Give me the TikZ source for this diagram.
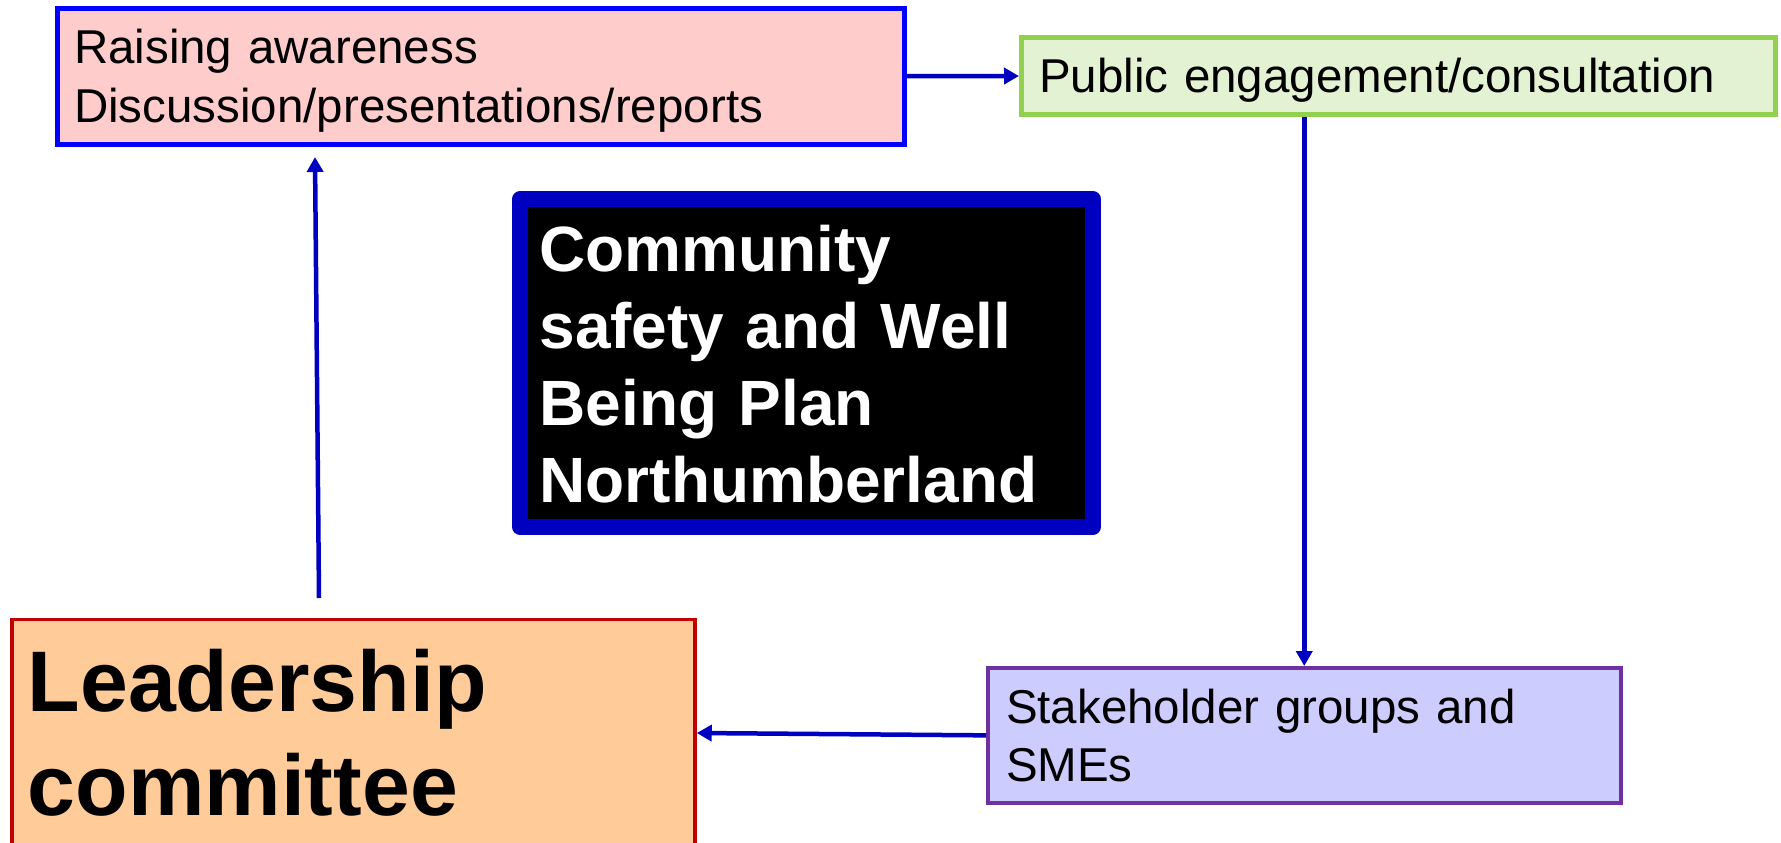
\documentclass[tikz,border=0pt]{standalone}
\usepackage{fontspec}
\setmainfont{Liberation Sans}
\usetikzlibrary{arrows.meta}
\definecolor{pinkfill}{RGB}{255,204,204}
\definecolor{pinkline}{RGB}{0,0,255}
\definecolor{greenfill}{RGB}{226,242,210}
\definecolor{greenline}{RGB}{146,208,80}
\definecolor{navy}{RGB}{0,0,192}
\definecolor{orangefill}{RGB}{255,204,153}
\definecolor{redline}{RGB}{192,0,0}
\definecolor{lilacfill}{RGB}{204,204,255}
\definecolor{purpleline}{RGB}{112,48,160}
\begin{document}
\begin{tikzpicture}[x=1pt,y=-1pt,
  box/.style={rectangle, align=left, inner ysep=0pt, anchor=center},
  smalltext/.style={font=\fontsize{47.5}{58.5}\selectfont},
  arr/.style={draw=navy, line width=4.5pt, -{Triangle[length=15pt,width=16pt]}}]
\useasboundingbox (0,0) rectangle (1781,843);

\node[box, smalltext, draw=pinkline, fill=pinkfill, line width=5pt,
  inner xsep=16.5pt, text width=813.5pt, minimum width=846.5pt, minimum height=135.5pt,
  text height=40pt, text depth=64.5pt] (aware) at (480.75,76.25)
  {Raising awareness\\Discussion/presentations/reports};

\node[box, smalltext, draw=greenline, fill=greenfill, line width=5pt,
  inner xsep=17.5pt, text width=719pt, minimum width=754pt, minimum height=76pt,
  text height=43.4pt, text depth=10pt] (public) at (1398.5,76)
  {Public engagement/consultation};

\node[box, font=\bfseries\fontsize{64}{77}\selectfont, text=white, fill=black, draw=navy,
  line width=15.5pt, line join=round,
  inner xsep=19.5pt, text width=534pt, minimum width=573pt, minimum height=328pt,
  text height=50pt, text depth=232.6pt] (plan) at (806.5,363)
  {Community\\safety and Well\\Being Plan\\Northumberland};

\node[box, font=\bfseries\fontsize{86}{103.5}\selectfont, draw=redline, fill=orangefill,
  line width=3.5pt,
  inner xsep=16pt, text width=651.25pt, minimum width=683.25pt, minimum height=227pt,
  text height=62pt, text depth=104.6pt] (leader) at (353.375,733)
  {Leadership\\committee};

\node[box, smalltext, draw=purpleline, fill=lilacfill, line width=4pt,
  inner xsep=18pt, text width=596.5pt, minimum width=632.5pt, minimum height=134.7pt,
  text height=40pt, text depth=64.1pt] (stake) at (1304.25,735.35)
  {Stakeholder groups and\\SMEs};

\coordinate (upfrom) at (319,598);
\coordinate (upto) at (315,157);

\draw[arr] (aware.east) -- (public.west);
\draw[arr] (public.south -| stake.north) -- (stake.north);
\draw[arr] (stake.west) -- (leader.east);
\draw[arr] (upfrom) -- (upto);
\end{tikzpicture}
\end{document}
